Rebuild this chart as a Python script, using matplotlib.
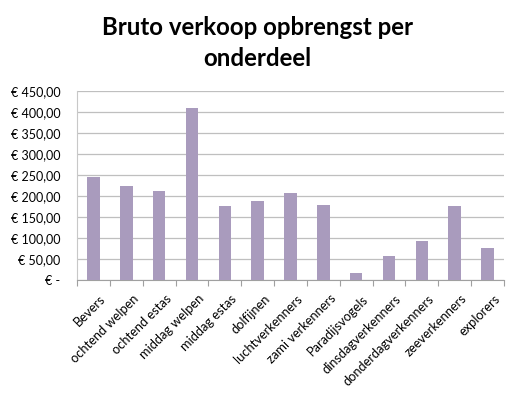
import matplotlib.pyplot as plt
from matplotlib.ticker import FuncFormatter
from matplotlib.transforms import ScaledTranslation
import numpy as np

categories = ["Bevers", "ochtend welpen", "ochtend estas", "middag welpen",
              "middag estas", "dolfijnen", "luchtverkenners", "zami verkenners",
              "Paradijsvogels", "dinsdagverkenners", "donderdagverkenners",
              "zeeverkenners", "explorers"]
opbrengst = [245, 224, 212, 410, 176, 187, 207, 178, 17, 58, 94, 177, 76]

plt.rcParams['font.family'] = ['Lato', 'DejaVu Sans']

fig = plt.figure(figsize=(5.14, 3.99), dpi=100)
ax = fig.add_axes([77 / 514, 1 - 280 / 399, (504 - 77) / 514, (280 - 91) / 399])

x = np.arange(len(categories))
ax.bar(x, opbrengst, width=0.38, color="#a99bbd", zorder=3)

ax.set_ylim(0, 450)
ax.set_xlim(-0.5, len(categories) - 0.5)
ax.set_yticks(np.arange(0, 451, 50))


def euro(v, pos):
    if v == 0:
        return "€ -"
    return "€ " + f"{v:.2f}".replace(".", ",")


ax.yaxis.set_major_formatter(FuncFormatter(euro))
ax.grid(axis="y", color="#bfbfbf", linewidth=0.9, zorder=0)

# tick marks between the categories, labels centred under bars
ax.set_xticks(np.arange(-0.5, len(categories), 1))
ax.set_xticklabels([])
ax.set_xticks(x, minor=True)
ax.set_xticklabels(categories, minor=True, rotation=45, ha="right",
                   rotation_mode="anchor", fontsize=9.3)
ax.tick_params(axis="x", which="minor", length=0, pad=9)
ax.tick_params(axis="x", which="major", length=4, color="#a0a0a0")
ax.tick_params(axis="y", length=0, labelsize=9, pad=12)

shift = ScaledTranslation(6 / 100, 0, fig.dpi_scale_trans)
for lbl in ax.get_xticklabels(minor=True):
    lbl.set_transform(lbl.get_transform() + shift)

for s in ["top", "right"]:
    ax.spines[s].set_visible(False)
ax.spines["left"].set_color("#c8c8c8")
ax.spines["bottom"].set_color("#a0a0a0")

fig.text(0.5, 1 - 43 / 399, "Bruto verkoop opbrengst per\nonderdeel",
         ha="center", va="center", fontsize=17.3, fontweight="bold",
         linespacing=1.4)

fig.savefig("out.png", dpi=100)
